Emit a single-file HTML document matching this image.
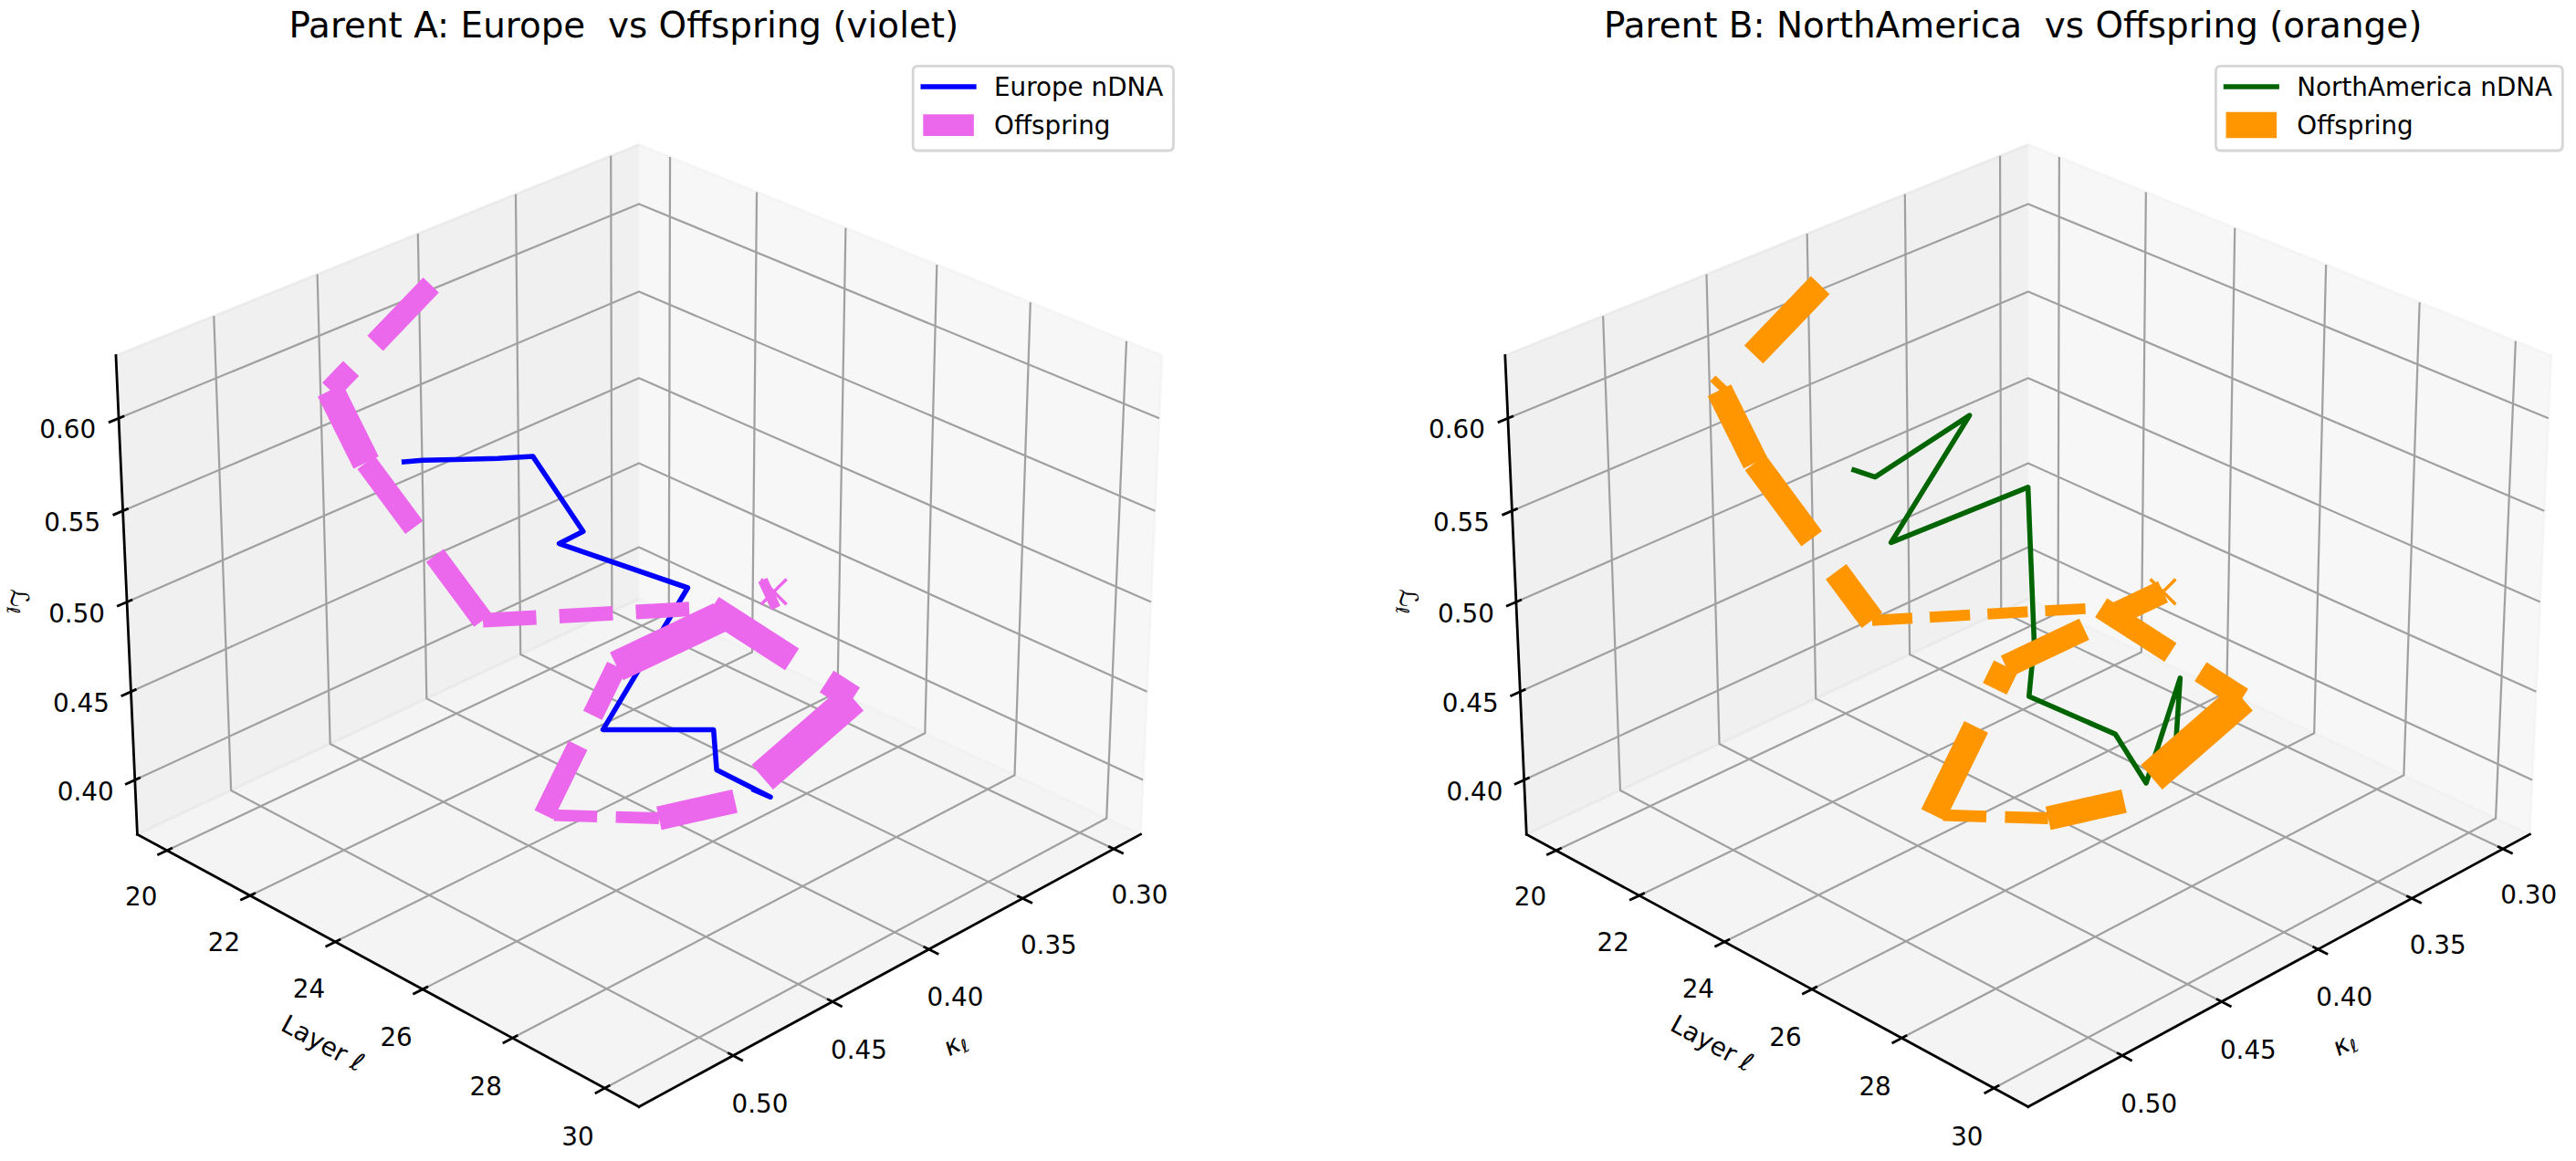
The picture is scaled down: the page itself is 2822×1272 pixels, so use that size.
<!DOCTYPE html>
<html lang="en"><head><meta charset="utf-8"><title>Parent vs Offspring nDNA</title>
<style>html,body{margin:0;padding:0;background:#fff}body{width:2822px;height:1272px;overflow:hidden;font-family:"DejaVu Sans","Liberation Sans",sans-serif}svg{display:block}</style>
</head><body>
<svg width="2822" height="1272" viewBox="0 0 1015.92 457.92">
 <defs>
  <style type="text/css">*{stroke-linejoin: round; stroke-linecap: butt}</style>
 </defs>
 <g id="figure_1">
  <g id="patch_1">
   <path d="M 0 457.92 L 1015.92 457.92 L 1015.92 0 L 0 0 z
" style="fill: #ffffff"/>
  </g>
  <g id="patch_2">
   <path d="M 24.06137 464.56651 L 467.946265 464.56651 L 467.946265 20.681615 L 24.06137 20.681615 z
" style="fill: #ffffff"/>
  </g>
  <g id="pane3d_1">
   <g id="patch_3">
    <path d="M 252.002262 236.228317 L 449.841994 329.07952 L 458.295076 140.221445 L 252.002262 57.008261 
" style="fill: #efefef; fill-opacity: 0.5; stroke: #efefef; stroke-opacity: 0.5; stroke-linejoin: miter"/>
   </g>
  </g>
  <g id="pane3d_2">
   <g id="patch_4">
    <path d="M 252.002262 236.228317 L 54.16253 329.07952 L 45.709449 140.221445 L 252.002262 57.008261 
" style="fill: #e1e1e1; fill-opacity: 0.5; stroke: #e1e1e1; stroke-opacity: 0.5; stroke-linejoin: miter"/>
   </g>
  </g>
  <g id="pane3d_3">
   <g id="patch_5">
    <path d="M 252.002262 236.228317 L 54.16253 329.07952 L 252.002262 436.511994 L 449.841994 329.07952 
" style="fill: #e9e9e9; fill-opacity: 0.5; stroke: #e9e9e9; stroke-opacity: 0.5; stroke-linejoin: miter"/>
   </g>
  </g>
  <g id="grid3d_1">
   <g id="Line3DCollection_1">
    <path d="M 439.237379 334.838121 L 241.344185 241.230423 L 240.919203 61.47888 
" style="fill: none; stroke: #a0a0a0; stroke-width: 0.8"/>
    <path d="M 403.307676 354.348948 L 205.278545 258.156942 L 203.38985 76.61725 
" style="fill: none; stroke: #a0a0a0; stroke-width: 0.8"/>
    <path d="M 366.342858 374.421872 L 168.246559 275.536993 L 164.813717 92.177864 
" style="fill: none; stroke: #a0a0a0; stroke-width: 0.8"/>
    <path d="M 328.297538 395.081538 L 130.208859 293.38905 L 125.146388 108.178639 
" style="fill: none; stroke: #a0a0a0; stroke-width: 0.8"/>
    <path d="M 289.123639 416.354054 L 91.123912 311.732607 L 84.3409 124.638517 
" style="fill: none; stroke: #a0a0a0; stroke-width: 0.8"/>
   </g>
  </g>
  <g id="grid3d_2">
   <g id="Line3DCollection_2">
    <path d="M 264.256304 61.951224 L 263.786226 241.75883 L 65.887738 335.446634 
" style="fill: none; stroke: #a0a0a0; stroke-width: 0.8"/>
    <path d="M 298.449692 75.743952 L 296.646469 257.180975 L 98.623287 353.222947 
" style="fill: none; stroke: #a0a0a0; stroke-width: 0.8"/>
    <path d="M 333.510583 89.886609 L 330.307631 272.979013 L 132.216605 371.465053 
" style="fill: none; stroke: #a0a0a0; stroke-width: 0.8"/>
    <path d="M 369.472416 104.392682 L 364.799357 289.166854 L 166.701854 390.191501 
" style="fill: none; stroke: #a0a0a0; stroke-width: 0.8"/>
    <path d="M 406.370367 119.276361 L 400.152771 305.759108 L 202.115033 409.421842 
" style="fill: none; stroke: #a0a0a0; stroke-width: 0.8"/>
    <path d="M 444.241472 134.552585 L 436.400571 322.77112 L 238.494107 429.17669 
" style="fill: none; stroke: #a0a0a0; stroke-width: 0.8"/>
   </g>
  </g>
  <g id="grid3d_3">
   <g id="Line3DCollection_3">
    <path d="M 53.20378 307.659192 L 252.002262 215.848898 L 450.800744 307.659192 
" style="fill: none; stroke: #a0a0a0; stroke-width: 0.8"/>
    <path d="M 51.644769 272.8279 L 252.002262 182.738807 L 452.359755 272.8279 
" style="fill: none; stroke: #a0a0a0; stroke-width: 0.8"/>
    <path d="M 50.061113 237.445983 L 252.002262 149.141508 L 453.943411 237.445983 
" style="fill: none; stroke: #a0a0a0; stroke-width: 0.8"/>
    <path d="M 48.452223 201.500283 L 252.002262 115.046167 L 455.552302 201.500283 
" style="fill: none; stroke: #a0a0a0; stroke-width: 0.8"/>
    <path d="M 46.81749 164.977214 L 252.002262 80.441626 L 457.187034 164.977214 
" style="fill: none; stroke: #a0a0a0; stroke-width: 0.8"/>
   </g>
  </g>
  <g id="axis3d_1">
   <g id="line2d_1">
    <path d="M 449.841994 329.07952 L 252.002262 436.511994 
" style="fill: none; stroke: #000000; stroke-linecap: square"/>
   </g>
   <g id="xtick_1">
    <g id="line2d_2">
     <path d="M 437.539484 334.03498 L 442.639136 336.447224 
" style="fill: none; stroke: #000000; stroke-linecap: square"/>
    </g>
    <g id="text_1">
     <text style="white-space: pre; font-size: 10px; font-family: 'DejaVu Sans', 'Liberation Sans', sans-serif; text-anchor: middle" x="449.433746" y="356.491101" transform="rotate(-0 449.433746 356.491101)">0.30</text>
    </g>
   </g>
   <g id="xtick_2">
    <g id="line2d_3">
     <path d="M 401.606985 353.522843 L 406.715119 356.004103 
" style="fill: none; stroke: #000000; stroke-linecap: square"/>
    </g>
    <g id="text_2">
     <text style="white-space: pre; font-size: 10px; font-family: 'DejaVu Sans', 'Liberation Sans', sans-serif; text-anchor: middle" x="413.591041" y="376.233338" transform="rotate(-0 413.591041 376.233338)">0.35</text>
    </g>
   </g>
   <g id="xtick_3">
    <g id="line2d_4">
     <path d="M 364.639912 373.571803 L 369.754904 376.125083 
" style="fill: none; stroke: #000000; stroke-linecap: square"/>
    </g>
    <g id="text_3">
     <text style="white-space: pre; font-size: 10px; font-family: 'DejaVu Sans', 'Liberation Sans', sans-serif; text-anchor: middle" x="376.714035" y="396.54527" transform="rotate(-0 376.714035 396.54527)">0.40</text>
    </g>
   </g>
   <g id="xtick_4">
    <g id="line2d_5">
     <path d="M 326.592932 394.206447 L 331.713002 396.83493 
" style="fill: none; stroke: #000000; stroke-linecap: square"/>
    </g>
    <g id="text_4">
     <text style="white-space: pre; font-size: 10px; font-family: 'DejaVu Sans', 'Liberation Sans', sans-serif; text-anchor: middle" x="338.757302" y="417.451917" transform="rotate(-0 338.757302 417.451917)">0.45</text>
    </g>
   </g>
   <g id="xtick_5">
    <g id="line2d_6">
     <path d="M 287.418023 415.45282 L 292.541222 418.159877 
" style="fill: none; stroke: #000000; stroke-linecap: square"/>
    </g>
    <g id="text_5">
     <text style="white-space: pre; font-size: 10px; font-family: 'DejaVu Sans', 'Liberation Sans', sans-serif; text-anchor: middle" x="299.67272" y="438.979786" transform="rotate(-0 299.67272 438.979786)">0.50</text>
    </g>
   </g>
   <g id="text_6">
    <g transform="translate(374.626645 417.164838) rotate(-28.50319)">
     <text>
      <tspan x="0" y="-0.53125" style="font-style: oblique; font-size: 10px; font-family: 'DejaVu Sans', 'Liberation Sans', sans-serif">κ</tspan>
      <tspan x="5.893555" y="1.109375" style="font-style: oblique; font-size: 7px; font-family: 'DejaVu Sans', 'Liberation Sans', sans-serif">ℓ</tspan>
     </text>
    </g>
   </g>
  </g>
  <g id="axis3d_2">
   <g id="line2d_7">
    <path d="M 54.16253 329.07952 L 252.002262 436.511994 
" style="fill: none; stroke: #000000; stroke-linecap: square"/>
   </g>
   <g id="xtick_6">
    <g id="line2d_8">
     <path d="M 67.585729 334.642782 L 62.485786 337.057163 
" style="fill: none; stroke: #000000; stroke-linecap: square"/>
    </g>
    <g id="text_7">
     <text style="white-space: pre; font-size: 10px; font-family: 'DejaVu Sans', 'Liberation Sans', sans-serif; text-anchor: middle" x="55.688633" y="357.106817" transform="rotate(-0 55.688633 357.106817)">20</text>
    </g>
   </g>
   <g id="xtick_7">
    <g id="line2d_9">
     <path d="M 100.323833 352.398176 L 95.21614 354.875426 
" style="fill: none; stroke: #000000; stroke-linecap: square"/>
    </g>
    <g id="text_8">
     <text style="white-space: pre; font-size: 10px; font-family: 'DejaVu Sans', 'Liberation Sans', sans-serif; text-anchor: middle" x="88.344899" y="375.093957" transform="rotate(-0 88.344899 375.093957)">22</text>
    </g>
   </g>
   <g id="xtick_8">
    <g id="line2d_10">
     <path d="M 133.919258 370.618535 L 128.805158 373.161142 
" style="fill: none; stroke: #000000; stroke-linecap: square"/>
    </g>
    <g id="text_9">
     <text style="white-space: pre; font-size: 10px; font-family: 'DejaVu Sans', 'Liberation Sans', sans-serif; text-anchor: middle" x="121.858256" y="393.553184" transform="rotate(-0 121.858256 393.553184)">24</text>
    </g>
   </g>
   <g id="xtick_9">
    <g id="line2d_11">
     <path d="M 168.406127 389.322366 L 163.287078 391.932949 
" style="fill: none; stroke: #000000; stroke-linecap: square"/>
    </g>
    <g id="text_10">
     <text style="white-space: pre; font-size: 10px; font-family: 'DejaVu Sans', 'Liberation Sans', sans-serif; text-anchor: middle" x="156.262893" y="412.50333" transform="rotate(-0 156.262893 412.50333)">26</text>
    </g>
   </g>
   <g id="xtick_10">
    <g id="line2d_12">
     <path d="M 203.820398 408.529169 L 198.697985 411.210494 
" style="fill: none; stroke: #000000; stroke-linecap: square"/>
    </g>
    <g id="text_11">
     <text style="white-space: pre; font-size: 10px; font-family: 'DejaVu Sans', 'Liberation Sans', sans-serif; text-anchor: middle" x="191.594847" y="431.964244" transform="rotate(-0 191.594847 431.964244)">28</text>
    </g>
   </g>
   <g id="xtick_11">
    <g id="line2d_13">
     <path d="M 240.199991 428.259512 L 235.075934 431.014491 
" style="fill: none; stroke: #000000; stroke-linecap: square"/>
    </g>
    <g id="text_12">
     <text style="white-space: pre; font-size: 10px; font-family: 'DejaVu Sans', 'Liberation Sans', sans-serif; text-anchor: middle" x="227.89212" y="451.956857" transform="rotate(-0 227.89212 451.956857)">30</text>
    </g>
   </g>
   <g id="text_13">
    <g transform="translate(109.922362 406.576837) rotate(-331.49681)">
     <text>
      <tspan x="0" y="-0.578125" style="font-size: 10px; font-family: 'DejaVu Sans', 'Liberation Sans', sans-serif">L</tspan>
      <tspan x="5.571289" y="-0.578125" style="font-size: 10px; font-family: 'DejaVu Sans', 'Liberation Sans', sans-serif">a</tspan>
      <tspan x="11.699219" y="-0.578125" style="font-size: 10px; font-family: 'DejaVu Sans', 'Liberation Sans', sans-serif">y</tspan>
      <tspan x="17.617188" y="-0.578125" style="font-size: 10px; font-family: 'DejaVu Sans', 'Liberation Sans', sans-serif">e</tspan>
      <tspan x="23.769531" y="-0.578125" style="font-size: 10px; font-family: 'DejaVu Sans', 'Liberation Sans', sans-serif">r</tspan>
      <tspan x="27.880859" y="-0.578125" style="font-size: 10px; font-family: 'DejaVu Sans', 'Liberation Sans', sans-serif"> </tspan>
      <tspan x="31.05957" y="-0.578125" style="font-style: oblique; font-size: 10px; font-family: 'DejaVu Sans', 'Liberation Sans', sans-serif">ℓ</tspan>
     </text>
    </g>
   </g>
  </g>
  <g id="axis3d_3">
   <g id="line2d_14">
    <path d="M 54.16253 329.07952 L 45.709449 140.221445 
" style="fill: none; stroke: #000000; stroke-linecap: square"/>
   </g>
   <g id="xtick_12">
    <g id="line2d_15">
     <path d="M 54.909516 306.871439 L 49.786312 309.237468 
" style="fill: none; stroke: #000000; stroke-linecap: square"/>
    </g>
    <g id="text_14">
     <text style="white-space: pre; font-size: 10px; font-family: 'DejaVu Sans', 'Liberation Sans', sans-serif; text-anchor: middle" x="33.726263" y="315.617630" transform="rotate(-0 33.726263 315.617630)">0.40</text>
    </g>
   </g>
   <g id="xtick_13">
    <g id="line2d_16">
     <path d="M 53.364793 272.054505 L 48.198628 274.377429 
" style="fill: none; stroke: #000000; stroke-linecap: square"/>
    </g>
    <g id="text_15">
     <text style="white-space: pre; font-size: 10px; font-family: 'DejaVu Sans', 'Liberation Sans', sans-serif; text-anchor: middle" x="32.012154" y="280.786337" transform="rotate(-0 32.012154 280.786337)">0.45</text>
    </g>
   </g>
   <g id="xtick_14">
    <g id="line2d_17">
     <path d="M 51.795665 236.687501 L 46.585815 238.965656 
" style="fill: none; stroke: #000000; stroke-linecap: square"/>
    </g>
    <g id="text_16">
     <text style="white-space: pre; font-size: 10px; font-family: 'DejaVu Sans', 'Liberation Sans', sans-serif; text-anchor: middle" x="30.270947" y="245.404421" transform="rotate(-0 30.270947 245.404421)">0.50</text>
    </g>
   </g>
   <g id="xtick_15">
    <g id="line2d_18">
     <path d="M 50.201549 200.757289 L 44.947273 202.988945 
" style="fill: none; stroke: #000000; stroke-linecap: square"/>
    </g>
    <g id="text_17">
     <text style="white-space: pre; font-size: 10px; font-family: 'DejaVu Sans', 'Liberation Sans', sans-serif; text-anchor: middle" x="28.501996" y="209.458720" transform="rotate(-0 28.501996 209.458720)">0.55</text>
    </g>
   </g>
   <g id="xtick_16">
    <g id="line2d_19">
     <path d="M 48.581844 164.250305 L 43.28238 166.43367 
" style="fill: none; stroke: #000000; stroke-linecap: square"/>
    </g>
    <g id="text_18">
     <text style="white-space: pre; font-size: 10px; font-family: 'DejaVu Sans', 'Liberation Sans', sans-serif; text-anchor: middle" x="26.704632" y="172.935652" transform="rotate(-0 26.704632 172.935652)">0.60</text>
    </g>
   </g>
   <g id="text_19">
    <g transform="translate(3.717523 232.304102) rotate(-272.562786)">
     <text>
      <tspan x="0" y="-0.296875" style="font-size: 10px; font-family: 'DejaVu Sans', 'Liberation Sans', sans-serif">ℒ</tspan>
      <tspan x="7.025696" y="1.34375" style="font-style: oblique; font-size: 7px; font-family: 'DejaVu Sans', 'Liberation Sans', sans-serif">ℓ</tspan>
     </text>
    </g>
   </g>
  </g>
  <g id="axes_1">
   <g id="line2d_20">
    <path d="M 159.372 182.124 L 166.68 181.548 L 196.38 180.828 L 210.168 180.036 L 229.968 209.628 L 220.536 214.416 L 271.224 231.84 L 237.816 287.784 L 281.412 287.82 L 282.636 303.66 L 303.84 314.352 L 297.432 311.58 
" clip-path="url(#p69957cb11d)" style="fill: none; stroke: #0000ff; stroke-width: 2; stroke-linecap: square"/>
   </g>
   <g id="text_20">
    <text style="white-space: pre; font-size: 14px; font-family: 'DejaVu Sans', 'Liberation Sans', sans-serif; text-anchor: middle" x="246.003818" y="14.781615" transform="rotate(-0 246.003818 14.781615)">Parent A: Europe  vs Offspring (violet)</text>
   </g>
   <g id="line2d_21">
    <path d="M 169.992 112.428 L 130.212 153.936 
" clip-path="url(#p69957cb11d)" style="fill: none; stroke-dasharray: 31.82,13.76; stroke-dashoffset: 0; stroke: #eb67eb; stroke-width: 8.6"/>
   </g>
   <g id="line2d_22">
    <path d="M 130.212 153.936 L 144.396 182.448 
" clip-path="url(#p69957cb11d)" style="fill: none; stroke-dasharray: 40.7,17.6; stroke-dashoffset: 0; stroke: #eb67eb; stroke-width: 11"/>
   </g>
   <g id="line2d_23">
    <path d="M 144.396 182.448 L 190.44 244.692 
" clip-path="url(#p69957cb11d)" style="fill: none; stroke-dasharray: 31.82,13.76; stroke-dashoffset: 0; stroke: #eb67eb; stroke-width: 8.6"/>
   </g>
   <g id="line2d_24">
    <path d="M 190.44 244.692 L 280.764 239.724 
" clip-path="url(#p69957cb11d)" style="fill: none; stroke-dasharray: 21.09,9.12; stroke-dashoffset: 0; stroke: #eb67eb; stroke-width: 5.7"/>
   </g>
   <g id="line2d_25">
    <path d="M 280.764 239.724 L 336.384 275.436 
" clip-path="url(#p69957cb11d)" style="fill: none; stroke-dasharray: 37.555,16.24; stroke-dashoffset: 0; stroke: #eb67eb; stroke-width: 10.15"/>
   </g>
   <g id="line2d_26">
    <path d="M 336.384 275.436 L 289.836 315.972 
" clip-path="url(#p69957cb11d)" style="fill: none; stroke-dasharray: 47.36,20.48; stroke-dashoffset: 0; stroke: #eb67eb; stroke-width: 12.8"/>
   </g>
   <g id="line2d_27">
    <path d="M 289.836 315.972 L 259.884 322.74 
" clip-path="url(#p69957cb11d)" style="fill: none; stroke-dasharray: 34.78,15.04; stroke-dashoffset: 0; stroke: #eb67eb; stroke-width: 9.4"/>
   </g>
   <g id="line2d_28">
    <path d="M 259.884 322.74 L 214.524 321.408 
" clip-path="url(#p69957cb11d)" style="fill: none; stroke-dasharray: 17.02,7.36; stroke-dashoffset: 0; stroke: #eb67eb; stroke-width: 4.6"/>
   </g>
   <g id="line2d_29">
    <path d="M 214.524 321.408 L 243.18 262.8 
" clip-path="url(#p69957cb11d)" style="fill: none; stroke-dasharray: 30.525,13.2; stroke-dashoffset: 0; stroke: #eb67eb; stroke-width: 8.25"/>
   </g>
   <g id="line2d_30">
    <path d="M 243.18 262.8 L 305.172 233.424 
" clip-path="url(#p69957cb11d)" style="fill: none; stroke-dasharray: 45.14,19.52; stroke-dashoffset: 0; stroke: #eb67eb; stroke-width: 12.2"/>
   </g>
   <g id="line2d_31">
    <defs>
     <path id="md3416a3a52" d="M -5 5 L 5 -5 M -5 -5 L 5 5 
" style="stroke: #eb67eb; stroke-width: 1.25"/>
    </defs>
    <g clip-path="url(#p69957cb11d)">
     <use href="#md3416a3a52" x="305.172" y="233.424" style="fill: #eb67eb; stroke: #eb67eb; stroke-width: 1.25"/>
    </g>
   </g>
   <g id="legend_1">
    <g id="patch_6">
     <path d="M 362.066442 59.397681 L 460.766442 59.397681 Q 462.766442 59.397681 462.766442 57.397681 L 462.766442 28.081431 Q 462.766442 26.081431 460.766442 26.081431 L 362.066442 26.081431 Q 360.066442 26.081431 360.066442 28.081431 L 360.066442 57.397681 Q 360.066442 59.397681 362.066442 59.397681 z
" style="fill: #ffffff; opacity: 0.8; stroke: #cccccc; stroke-linejoin: miter"/>
    </g>
    <g id="line2d_32">
     <path d="M 364.066442 34.179868 L 374.066442 34.179868 L 384.066442 34.179868 
" style="fill: none; stroke: #0000ff; stroke-width: 2; stroke-linecap: square"/>
    </g>
    <g id="text_21">
     <text style="white-space: pre; font-size: 10px; font-family: 'DejaVu Sans', 'Liberation Sans', sans-serif; text-anchor: start" x="392.066442" y="37.679868" transform="rotate(-0 392.066442 37.679868)">Europe nDNA</text>
    </g>
    <g id="line2d_33">
     <path d="M 364.066442 49.347993 L 374.066442 49.347993 L 384.066442 49.347993 
" style="fill: none; stroke-dasharray: 31.82,13.76; stroke-dashoffset: 0; stroke: #eb67eb; stroke-width: 8.6"/>
    </g>
    <g id="text_22">
     <text style="white-space: pre; font-size: 10px; font-family: 'DejaVu Sans', 'Liberation Sans', sans-serif; text-anchor: start" x="392.066442" y="52.847993" transform="rotate(-0 392.066442 52.847993)">Offspring</text>
    </g>
   </g>
  </g>
  <g id="patch_7">
   <path d="M 571.92737 464.56651 L 1015.812265 464.56651 L 1015.812265 20.681615 L 571.92737 20.681615 z
" style="fill: #ffffff"/>
  </g>
  <g id="pane3d_4">
   <g id="patch_8">
    <path d="M 799.868262 236.228317 L 997.707994 329.07952 L 1006.161076 140.221445 L 799.868262 57.008261 
" style="fill: #efefef; fill-opacity: 0.5; stroke: #efefef; stroke-opacity: 0.5; stroke-linejoin: miter"/>
   </g>
  </g>
  <g id="pane3d_5">
   <g id="patch_9">
    <path d="M 799.868262 236.228317 L 602.02853 329.07952 L 593.575449 140.221445 L 799.868262 57.008261 
" style="fill: #e1e1e1; fill-opacity: 0.5; stroke: #e1e1e1; stroke-opacity: 0.5; stroke-linejoin: miter"/>
   </g>
  </g>
  <g id="pane3d_6">
   <g id="patch_10">
    <path d="M 799.868262 236.228317 L 602.02853 329.07952 L 799.868262 436.511994 L 997.707994 329.07952 
" style="fill: #e9e9e9; fill-opacity: 0.5; stroke: #e9e9e9; stroke-opacity: 0.5; stroke-linejoin: miter"/>
   </g>
  </g>
  <g id="grid3d_4">
   <g id="Line3DCollection_4">
    <path d="M 987.103379 334.838121 L 789.210185 241.230423 L 788.785203 61.47888 
" style="fill: none; stroke: #a0a0a0; stroke-width: 0.8"/>
    <path d="M 951.173676 354.348948 L 753.144545 258.156942 L 751.25585 76.61725 
" style="fill: none; stroke: #a0a0a0; stroke-width: 0.8"/>
    <path d="M 914.208858 374.421872 L 716.112559 275.536993 L 712.679717 92.177864 
" style="fill: none; stroke: #a0a0a0; stroke-width: 0.8"/>
    <path d="M 876.163538 395.081538 L 678.074859 293.38905 L 673.012388 108.178639 
" style="fill: none; stroke: #a0a0a0; stroke-width: 0.8"/>
    <path d="M 836.989639 416.354054 L 638.989912 311.732607 L 632.2069 124.638517 
" style="fill: none; stroke: #a0a0a0; stroke-width: 0.8"/>
   </g>
  </g>
  <g id="grid3d_5">
   <g id="Line3DCollection_5">
    <path d="M 812.122304 61.951224 L 811.652226 241.75883 L 613.753738 335.446634 
" style="fill: none; stroke: #a0a0a0; stroke-width: 0.8"/>
    <path d="M 846.315692 75.743952 L 844.512469 257.180975 L 646.489287 353.222947 
" style="fill: none; stroke: #a0a0a0; stroke-width: 0.8"/>
    <path d="M 881.376583 89.886609 L 878.173631 272.979013 L 680.082605 371.465053 
" style="fill: none; stroke: #a0a0a0; stroke-width: 0.8"/>
    <path d="M 917.338416 104.392682 L 912.665357 289.166854 L 714.567854 390.191501 
" style="fill: none; stroke: #a0a0a0; stroke-width: 0.8"/>
    <path d="M 954.236367 119.276361 L 948.018771 305.759108 L 749.981033 409.421842 
" style="fill: none; stroke: #a0a0a0; stroke-width: 0.8"/>
    <path d="M 992.107472 134.552585 L 984.266571 322.77112 L 786.360107 429.17669 
" style="fill: none; stroke: #a0a0a0; stroke-width: 0.8"/>
   </g>
  </g>
  <g id="grid3d_6">
   <g id="Line3DCollection_6">
    <path d="M 601.06978 307.659192 L 799.868262 215.848898 L 998.666744 307.659192 
" style="fill: none; stroke: #a0a0a0; stroke-width: 0.8"/>
    <path d="M 599.510769 272.8279 L 799.868262 182.738807 L 1000.225755 272.8279 
" style="fill: none; stroke: #a0a0a0; stroke-width: 0.8"/>
    <path d="M 597.927113 237.445983 L 799.868262 149.141508 L 1001.809411 237.445983 
" style="fill: none; stroke: #a0a0a0; stroke-width: 0.8"/>
    <path d="M 596.318223 201.500283 L 799.868262 115.046167 L 1003.418302 201.500283 
" style="fill: none; stroke: #a0a0a0; stroke-width: 0.8"/>
    <path d="M 594.68349 164.977214 L 799.868262 80.441626 L 1005.053034 164.977214 
" style="fill: none; stroke: #a0a0a0; stroke-width: 0.8"/>
   </g>
  </g>
  <g id="axis3d_4">
   <g id="line2d_34">
    <path d="M 997.707994 329.07952 L 799.868262 436.511994 
" style="fill: none; stroke: #000000; stroke-linecap: square"/>
   </g>
   <g id="xtick_17">
    <g id="line2d_35">
     <path d="M 985.405484 334.03498 L 990.505136 336.447224 
" style="fill: none; stroke: #000000; stroke-linecap: square"/>
    </g>
    <g id="text_23">
     <text style="white-space: pre; font-size: 10px; font-family: 'DejaVu Sans', 'Liberation Sans', sans-serif; text-anchor: middle" x="997.299746" y="356.491101" transform="rotate(-0 997.299746 356.491101)">0.30</text>
    </g>
   </g>
   <g id="xtick_18">
    <g id="line2d_36">
     <path d="M 949.472985 353.522843 L 954.581119 356.004103 
" style="fill: none; stroke: #000000; stroke-linecap: square"/>
    </g>
    <g id="text_24">
     <text style="white-space: pre; font-size: 10px; font-family: 'DejaVu Sans', 'Liberation Sans', sans-serif; text-anchor: middle" x="961.457041" y="376.233338" transform="rotate(-0 961.457041 376.233338)">0.35</text>
    </g>
   </g>
   <g id="xtick_19">
    <g id="line2d_37">
     <path d="M 912.505912 373.571803 L 917.620904 376.125083 
" style="fill: none; stroke: #000000; stroke-linecap: square"/>
    </g>
    <g id="text_25">
     <text style="white-space: pre; font-size: 10px; font-family: 'DejaVu Sans', 'Liberation Sans', sans-serif; text-anchor: middle" x="924.580035" y="396.54527" transform="rotate(-0 924.580035 396.54527)">0.40</text>
    </g>
   </g>
   <g id="xtick_20">
    <g id="line2d_38">
     <path d="M 874.458932 394.206447 L 879.579002 396.83493 
" style="fill: none; stroke: #000000; stroke-linecap: square"/>
    </g>
    <g id="text_26">
     <text style="white-space: pre; font-size: 10px; font-family: 'DejaVu Sans', 'Liberation Sans', sans-serif; text-anchor: middle" x="886.623302" y="417.451917" transform="rotate(-0 886.623302 417.451917)">0.45</text>
    </g>
   </g>
   <g id="xtick_21">
    <g id="line2d_39">
     <path d="M 835.284023 415.45282 L 840.407222 418.159877 
" style="fill: none; stroke: #000000; stroke-linecap: square"/>
    </g>
    <g id="text_27">
     <text style="white-space: pre; font-size: 10px; font-family: 'DejaVu Sans', 'Liberation Sans', sans-serif; text-anchor: middle" x="847.53872" y="438.979786" transform="rotate(-0 847.53872 438.979786)">0.50</text>
    </g>
   </g>
   <g id="text_28">
    <g transform="translate(922.492645 417.164838) rotate(-28.50319)">
     <text>
      <tspan x="0" y="-0.53125" style="font-style: oblique; font-size: 10px; font-family: 'DejaVu Sans', 'Liberation Sans', sans-serif">κ</tspan>
      <tspan x="5.893555" y="1.109375" style="font-style: oblique; font-size: 7px; font-family: 'DejaVu Sans', 'Liberation Sans', sans-serif">ℓ</tspan>
     </text>
    </g>
   </g>
  </g>
  <g id="axis3d_5">
   <g id="line2d_40">
    <path d="M 602.02853 329.07952 L 799.868262 436.511994 
" style="fill: none; stroke: #000000; stroke-linecap: square"/>
   </g>
   <g id="xtick_22">
    <g id="line2d_41">
     <path d="M 615.451729 334.642782 L 610.351786 337.057163 
" style="fill: none; stroke: #000000; stroke-linecap: square"/>
    </g>
    <g id="text_29">
     <text style="white-space: pre; font-size: 10px; font-family: 'DejaVu Sans', 'Liberation Sans', sans-serif; text-anchor: middle" x="603.554633" y="357.106817" transform="rotate(-0 603.554633 357.106817)">20</text>
    </g>
   </g>
   <g id="xtick_23">
    <g id="line2d_42">
     <path d="M 648.189833 352.398176 L 643.08214 354.875426 
" style="fill: none; stroke: #000000; stroke-linecap: square"/>
    </g>
    <g id="text_30">
     <text style="white-space: pre; font-size: 10px; font-family: 'DejaVu Sans', 'Liberation Sans', sans-serif; text-anchor: middle" x="636.210899" y="375.093957" transform="rotate(-0 636.210899 375.093957)">22</text>
    </g>
   </g>
   <g id="xtick_24">
    <g id="line2d_43">
     <path d="M 681.785258 370.618535 L 676.671158 373.161142 
" style="fill: none; stroke: #000000; stroke-linecap: square"/>
    </g>
    <g id="text_31">
     <text style="white-space: pre; font-size: 10px; font-family: 'DejaVu Sans', 'Liberation Sans', sans-serif; text-anchor: middle" x="669.724256" y="393.553184" transform="rotate(-0 669.724256 393.553184)">24</text>
    </g>
   </g>
   <g id="xtick_25">
    <g id="line2d_44">
     <path d="M 716.272127 389.322366 L 711.153078 391.932949 
" style="fill: none; stroke: #000000; stroke-linecap: square"/>
    </g>
    <g id="text_32">
     <text style="white-space: pre; font-size: 10px; font-family: 'DejaVu Sans', 'Liberation Sans', sans-serif; text-anchor: middle" x="704.128893" y="412.50333" transform="rotate(-0 704.128893 412.50333)">26</text>
    </g>
   </g>
   <g id="xtick_26">
    <g id="line2d_45">
     <path d="M 751.686398 408.529169 L 746.563985 411.210494 
" style="fill: none; stroke: #000000; stroke-linecap: square"/>
    </g>
    <g id="text_33">
     <text style="white-space: pre; font-size: 10px; font-family: 'DejaVu Sans', 'Liberation Sans', sans-serif; text-anchor: middle" x="739.460847" y="431.964244" transform="rotate(-0 739.460847 431.964244)">28</text>
    </g>
   </g>
   <g id="xtick_27">
    <g id="line2d_46">
     <path d="M 788.065991 428.259512 L 782.941934 431.014491 
" style="fill: none; stroke: #000000; stroke-linecap: square"/>
    </g>
    <g id="text_34">
     <text style="white-space: pre; font-size: 10px; font-family: 'DejaVu Sans', 'Liberation Sans', sans-serif; text-anchor: middle" x="775.75812" y="451.956857" transform="rotate(-0 775.75812 451.956857)">30</text>
    </g>
   </g>
   <g id="text_35">
    <g transform="translate(657.788362 406.576837) rotate(-331.49681)">
     <text>
      <tspan x="0" y="-0.578125" style="font-size: 10px; font-family: 'DejaVu Sans', 'Liberation Sans', sans-serif">L</tspan>
      <tspan x="5.571289" y="-0.578125" style="font-size: 10px; font-family: 'DejaVu Sans', 'Liberation Sans', sans-serif">a</tspan>
      <tspan x="11.699219" y="-0.578125" style="font-size: 10px; font-family: 'DejaVu Sans', 'Liberation Sans', sans-serif">y</tspan>
      <tspan x="17.617188" y="-0.578125" style="font-size: 10px; font-family: 'DejaVu Sans', 'Liberation Sans', sans-serif">e</tspan>
      <tspan x="23.769531" y="-0.578125" style="font-size: 10px; font-family: 'DejaVu Sans', 'Liberation Sans', sans-serif">r</tspan>
      <tspan x="27.880859" y="-0.578125" style="font-size: 10px; font-family: 'DejaVu Sans', 'Liberation Sans', sans-serif"> </tspan>
      <tspan x="31.05957" y="-0.578125" style="font-style: oblique; font-size: 10px; font-family: 'DejaVu Sans', 'Liberation Sans', sans-serif">ℓ</tspan>
     </text>
    </g>
   </g>
  </g>
  <g id="axis3d_6">
   <g id="line2d_47">
    <path d="M 602.02853 329.07952 L 593.575449 140.221445 
" style="fill: none; stroke: #000000; stroke-linecap: square"/>
   </g>
   <g id="xtick_28">
    <g id="line2d_48">
     <path d="M 602.775516 306.871439 L 597.652312 309.237468 
" style="fill: none; stroke: #000000; stroke-linecap: square"/>
    </g>
    <g id="text_36">
     <text style="white-space: pre; font-size: 10px; font-family: 'DejaVu Sans', 'Liberation Sans', sans-serif; text-anchor: middle" x="581.592263" y="315.617630" transform="rotate(-0 581.592263 315.617630)">0.40</text>
    </g>
   </g>
   <g id="xtick_29">
    <g id="line2d_49">
     <path d="M 601.230793 272.054505 L 596.064628 274.377429 
" style="fill: none; stroke: #000000; stroke-linecap: square"/>
    </g>
    <g id="text_37">
     <text style="white-space: pre; font-size: 10px; font-family: 'DejaVu Sans', 'Liberation Sans', sans-serif; text-anchor: middle" x="579.878154" y="280.786337" transform="rotate(-0 579.878154 280.786337)">0.45</text>
    </g>
   </g>
   <g id="xtick_30">
    <g id="line2d_50">
     <path d="M 599.661665 236.687501 L 594.451815 238.965656 
" style="fill: none; stroke: #000000; stroke-linecap: square"/>
    </g>
    <g id="text_38">
     <text style="white-space: pre; font-size: 10px; font-family: 'DejaVu Sans', 'Liberation Sans', sans-serif; text-anchor: middle" x="578.136947" y="245.404421" transform="rotate(-0 578.136947 245.404421)">0.50</text>
    </g>
   </g>
   <g id="xtick_31">
    <g id="line2d_51">
     <path d="M 598.067549 200.757289 L 592.813273 202.988945 
" style="fill: none; stroke: #000000; stroke-linecap: square"/>
    </g>
    <g id="text_39">
     <text style="white-space: pre; font-size: 10px; font-family: 'DejaVu Sans', 'Liberation Sans', sans-serif; text-anchor: middle" x="576.367996" y="209.458720" transform="rotate(-0 576.367996 209.458720)">0.55</text>
    </g>
   </g>
   <g id="xtick_32">
    <g id="line2d_52">
     <path d="M 596.447844 164.250305 L 591.14838 166.43367 
" style="fill: none; stroke: #000000; stroke-linecap: square"/>
    </g>
    <g id="text_40">
     <text style="white-space: pre; font-size: 10px; font-family: 'DejaVu Sans', 'Liberation Sans', sans-serif; text-anchor: middle" x="574.570632" y="172.935652" transform="rotate(-0 574.570632 172.935652)">0.60</text>
    </g>
   </g>
   <g id="text_41">
    <g transform="translate(551.583523 232.304102) rotate(-272.562786)">
     <text>
      <tspan x="0" y="-0.296875" style="font-size: 10px; font-family: 'DejaVu Sans', 'Liberation Sans', sans-serif">ℒ</tspan>
      <tspan x="7.025696" y="1.34375" style="font-style: oblique; font-size: 7px; font-family: 'DejaVu Sans', 'Liberation Sans', sans-serif">ℓ</tspan>
     </text>
    </g>
   </g>
  </g>
  <g id="axes_2">
   <g id="line2d_53">
    <path d="M 731.142 185.364 L 739.494 188.136 L 776.754 163.836 L 745.794 213.984 L 799.794 192.168 L 802.242 253.404 L 800.19 274.68 L 834.282 289.584 L 846.414 308.844 L 859.806 267.408 L 857.718 299.232 
" clip-path="url(#pc6bae4cd92)" style="fill: none; stroke: #006400; stroke-width: 2; stroke-linecap: square"/>
   </g>
   <g id="text_42">
    <text style="white-space: pre; font-size: 14px; font-family: 'DejaVu Sans', 'Liberation Sans', sans-serif; text-anchor: middle" x="793.869818" y="14.781615" transform="rotate(-0 793.869818 14.781615)">Parent B: NorthAmerica  vs Offspring (orange)</text>
   </g>
   <g id="line2d_54">
    <path d="M 717.858 112.428 L 678.078 153.936 
" clip-path="url(#pc6bae4cd92)" style="fill: none; stroke-dasharray: 37.925,16.4; stroke-dashoffset: 0; stroke: #ff9600; stroke-width: 10.25"/>
   </g>
   <g id="line2d_55">
    <path d="M 678.078 153.936 L 692.262 182.448 
" clip-path="url(#pc6bae4cd92)" style="fill: none; stroke-dasharray: 38.11,16.48; stroke-dashoffset: 0; stroke: #ff9600; stroke-width: 10.3"/>
   </g>
   <g id="line2d_56">
    <path d="M 692.262 182.448 L 738.306 244.692 
" clip-path="url(#pc6bae4cd92)" style="fill: none; stroke-dasharray: 37.37,16.16; stroke-dashoffset: 0; stroke: #ff9600; stroke-width: 10.1"/>
   </g>
   <g id="line2d_57">
    <path d="M 738.306 244.692 L 828.63 239.724 
" clip-path="url(#pc6bae4cd92)" style="fill: none; stroke-dasharray: 15.91,6.88; stroke-dashoffset: 0; stroke: #ff9600; stroke-width: 4.3"/>
   </g>
   <g id="line2d_58">
    <path d="M 828.63 239.724 L 884.25 275.436 
" clip-path="url(#pc6bae4cd92)" style="fill: none; stroke-dasharray: 32.56,14.08; stroke-dashoffset: 0; stroke: #ff9600; stroke-width: 8.8"/>
   </g>
   <g id="line2d_59">
    <path d="M 884.25 275.436 L 837.702 315.972 
" clip-path="url(#pc6bae4cd92)" style="fill: none; stroke-dasharray: 47.36,20.48; stroke-dashoffset: 0; stroke: #ff9600; stroke-width: 12.8"/>
   </g>
   <g id="line2d_60">
    <path d="M 837.702 315.972 L 807.75 322.74 
" clip-path="url(#pc6bae4cd92)" style="fill: none; stroke-dasharray: 34.78,15.04; stroke-dashoffset: 0; stroke: #ff9600; stroke-width: 9.4"/>
   </g>
   <g id="line2d_61">
    <path d="M 807.75 322.74 L 762.39 321.408 
" clip-path="url(#pc6bae4cd92)" style="fill: none; stroke-dasharray: 17.02,7.36; stroke-dashoffset: 0; stroke: #ff9600; stroke-width: 4.6"/>
   </g>
   <g id="line2d_62">
    <path d="M 762.39 321.408 L 791.046 262.8 
" clip-path="url(#pc6bae4cd92)" style="fill: none; stroke-dasharray: 38.665,16.72; stroke-dashoffset: 0; stroke: #ff9600; stroke-width: 10.45"/>
   </g>
   <g id="line2d_63">
    <path d="M 791.046 262.8 L 853.038 233.424 
" clip-path="url(#pc6bae4cd92)" style="fill: none; stroke-dasharray: 34.225,14.8; stroke-dashoffset: 0; stroke: #ff9600; stroke-width: 9.25"/>
   </g>
   <g id="line2d_64">
    <defs>
     <path id="mc21e8d8482" d="M -5 5 L 5 -5 M -5 -5 L 5 5 
" style="stroke: #ff9600; stroke-width: 1.25"/>
    </defs>
    <g clip-path="url(#pc6bae4cd92)">
     <use href="#mc21e8d8482" x="853.038" y="233.424" style="fill: #ff9600; stroke: #ff9600; stroke-width: 1.25"/>
    </g>
   </g>
   <g id="legend_2">
    <g id="patch_11">
     <path d="M 875.876192 59.397681 L 1008.632442 59.397681 Q 1010.632442 59.397681 1010.632442 57.397681 L 1010.632442 28.081431 Q 1010.632442 26.081431 1008.632442 26.081431 L 875.876192 26.081431 Q 873.876192 26.081431 873.876192 28.081431 L 873.876192 57.397681 Q 873.876192 59.397681 875.876192 59.397681 z
" style="fill: #ffffff; opacity: 0.8; stroke: #cccccc; stroke-linejoin: miter"/>
    </g>
    <g id="line2d_65">
     <path d="M 877.876192 34.179868 L 887.876192 34.179868 L 897.876192 34.179868 
" style="fill: none; stroke: #006400; stroke-width: 2; stroke-linecap: square"/>
    </g>
    <g id="text_43">
     <text style="white-space: pre; font-size: 10px; font-family: 'DejaVu Sans', 'Liberation Sans', sans-serif; text-anchor: start" x="905.876192" y="37.679868" transform="rotate(-0 905.876192 37.679868)">NorthAmerica nDNA</text>
    </g>
    <g id="line2d_66">
     <path d="M 877.876192 49.347993 L 887.876192 49.347993 L 897.876192 49.347993 
" style="fill: none; stroke-dasharray: 37.925,16.4; stroke-dashoffset: 0; stroke: #ff9600; stroke-width: 10.25"/>
    </g>
    <g id="text_44">
     <text style="white-space: pre; font-size: 10px; font-family: 'DejaVu Sans', 'Liberation Sans', sans-serif; text-anchor: start" x="905.876192" y="52.847993" transform="rotate(-0 905.876192 52.847993)">Offspring</text>
    </g>
   </g>
  </g>
 </g>
 <defs>
  <clipPath id="p69957cb11d">
   <rect x="24.06137" y="20.681615" width="443.884895" height="443.884895"/>
  </clipPath>
  <clipPath id="pc6bae4cd92">
   <rect x="571.92737" y="20.681615" width="443.884895" height="443.884895"/>
  </clipPath>
 </defs>
</svg>

</body></html>
